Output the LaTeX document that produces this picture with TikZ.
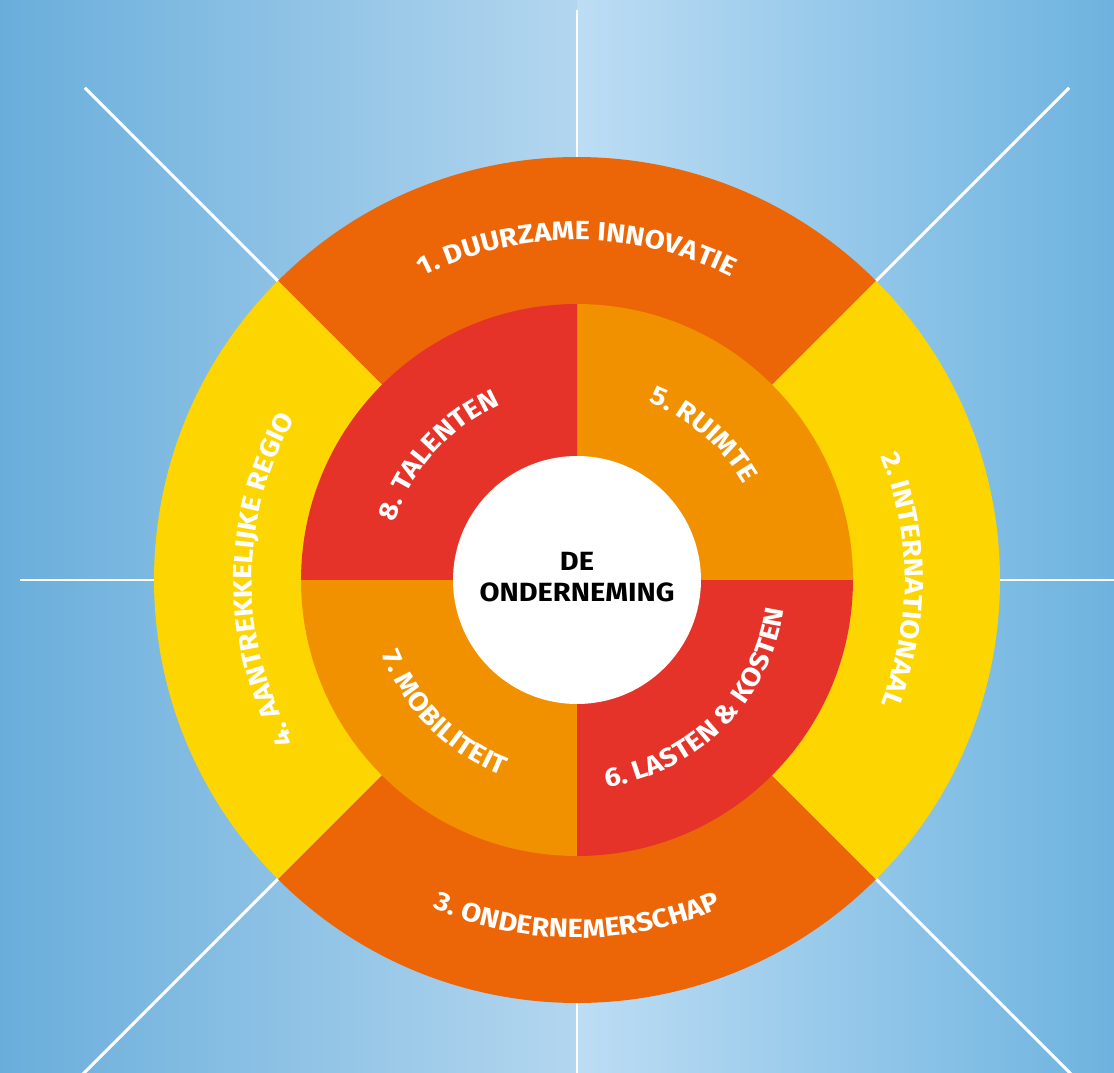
\documentclass[tikz,border=0pt]{standalone}
\usepackage{fontspec}
\setmainfont{Fira Sans}[FakeStretch=1.1]
\usetikzlibrary{decorations.text}
\usetikzlibrary{positioning}

\definecolor{skyedge}{HTML}{69AEDB}
\definecolor{skymidl}{HTML}{B3D6EF}
\definecolor{skymidr}{HTML}{BDDDF4}
\definecolor{skyedger}{HTML}{6DB3DF}
\definecolor{ringorange}{HTML}{EC6608}
\definecolor{ringyellow}{HTML}{FDD500}
\definecolor{coreorange}{HTML}{F29100}
\definecolor{corered}{HTML}{E5332A}
\newcommand{\lblfont}{\bfseries\fontsize{15}{18}\selectfont}

\begin{document}
\begin{tikzpicture}[x=0.02cm, y=0.02cm,
        execute at begin picture={\lblfont},
        ray/.style={white, line width=1.7pt},
        arclbl/.style={decorate, decoration={text along path, text align=center,
            text color=white, text={#1}}}]
        % sky behind the wheel
        \shade[left color=skyedge, right color=skymidl] (-577,-492) rectangle (0,580);
        \shade[left color=skymidr, right color=skyedger] (0,-492) rectangle (537,580);
        \useasboundingbox (-577,-492) rectangle (537,580);
        \coordinate (c) at (0,0);
        \foreach \ang/\len in {90/570, 180/557, 0/560, 270/520, 45/696, 135/696, 225/720, 315/720}
            \draw[ray] (c) -- (\ang:\len);
        
        \foreach \st/\col in {45/ringorange, 135/ringyellow, 225/ringorange, 315/ringyellow}
            \fill[\col] (c) -- (\st:423) arc[start angle=\st, delta angle=90, radius=8.46cm] -- cycle;
        \foreach \st/\col in {0/coreorange, 90/corered, 180/coreorange, 270/corered}
            \fill[\col] (c) -- (\st:276) arc[start angle=\st, delta angle=90, radius=5.52cm] -- cycle;
        \fill[white] (c) circle[radius=2.48cm];
        \node[font=\lblfont, align=center] (core) at (0,3) {DE\\ONDERNEMING};
        
        \path[arclbl={1. DUURZAME INNOVATIE}] (135:340) arc[start angle=135, end angle=45, radius=6.8cm];
        \path[arclbl={2. INTERNATIONAAL}] (45:328) arc[start angle=45, end angle=-45, radius=6.56cm];
        \path[arclbl={3. ONDERNEMERSCHAP}] (225:358) arc[start angle=225, end angle=315, radius=7.16cm];
        \path[arclbl={4. AANTREKKELIJKE REGIO}] (225:325) arc[start angle=225, end angle=135, radius=6.5cm];
        \path[arclbl={5. RUIMTE}] (94:192) arc[start angle=94, end angle=4, radius=3.84cm];
        \path[arclbl={6. LASTEN {\&} KOSTEN}] (270:209) arc[start angle=270, end angle=360, radius=4.18cm];
        \path[arclbl={7. MOBILITEIT}] (180:209) arc[start angle=180, end angle=270, radius=4.18cm];
        \path[arclbl={8. TALENTEN}] (183:191) arc[start angle=183, end angle=93, radius=3.82cm];
    \end{tikzpicture}
\end{document}
